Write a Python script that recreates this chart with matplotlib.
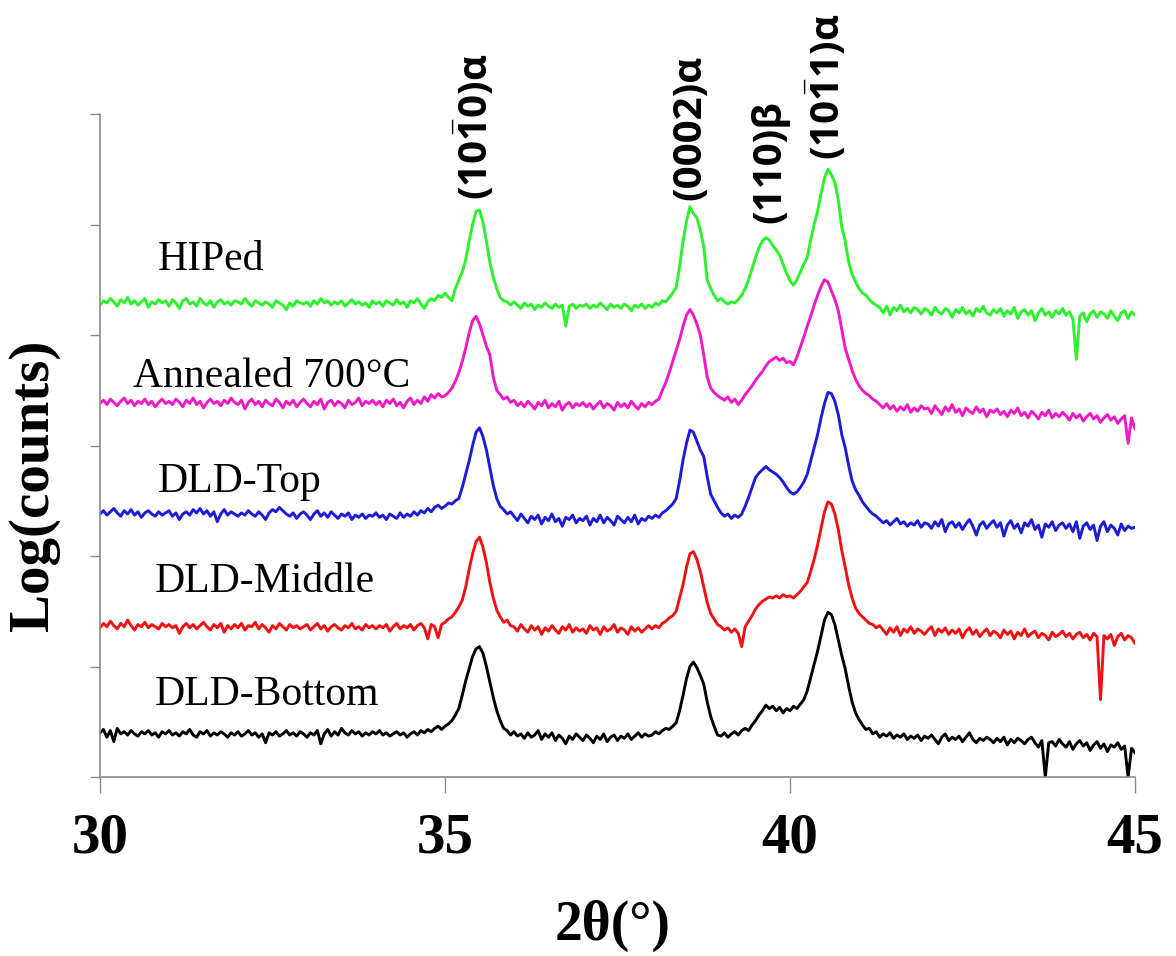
import numpy as np
import matplotlib
matplotlib.use("Agg")
import matplotlib.pyplot as plt

# ---------------- data ----------------
two_theta = np.round(np.arange(30.0, 45.0001, 0.05), 2)   # scan grid, 0.05 deg step

hiped = [
    4.27, 4.31, 4.29, 4.33, 4.30, 4.26, 4.32, 4.29, 4.34, 4.28, 4.31, 4.27, 4.30, 4.33, 4.25, 4.30, 4.28, 4.32, 4.29, 4.31,
    4.26, 4.32, 4.29, 4.24, 4.31, 4.33, 4.28, 4.30, 4.26, 4.33, 4.29, 4.27, 4.31, 4.25, 4.30, 4.32, 4.28, 4.30, 4.27, 4.31,
    4.30, 4.28, 4.33, 4.29, 4.26, 4.31, 4.29, 4.27, 4.30, 4.28, 4.25, 4.31, 4.29, 4.27, 4.23, 4.29, 4.26, 4.31, 4.29, 4.28,
    4.30, 4.26, 4.31, 4.28, 4.33, 4.29, 4.31, 4.27, 4.30, 4.28, 4.31, 4.26, 4.29, 4.32, 4.28, 4.30, 4.27, 4.29, 4.25, 4.31,
    4.28, 4.30, 4.26, 4.31, 4.29, 4.27, 4.32, 4.28, 4.30, 4.25, 4.31, 4.29, 4.33, 4.28, 4.24, 4.30, 4.33, 4.31, 4.36, 4.34,
    4.38, 4.34, 4.31, 4.42, 4.50, 4.57, 4.68, 4.85, 5.00, 5.12, 5.13, 5.02, 4.85, 4.66, 4.52, 4.42, 4.34, 4.31, 4.30, 4.27,
    4.30, 4.27, 4.24, 4.29, 4.26, 4.28, 4.23, 4.27, 4.25, 4.29, 4.26, 4.24, 4.28, 4.25, 4.27, 4.08, 4.26, 4.28, 4.24, 4.27,
    4.26, 4.28, 4.24, 4.27, 4.25, 4.29, 4.26, 4.23, 4.28, 4.25, 4.27, 4.24, 4.28, 4.26, 4.22, 4.27, 4.25, 4.28, 4.24, 4.27,
    4.25, 4.29, 4.27, 4.31, 4.30, 4.34, 4.38, 4.43, 4.62, 4.85, 5.03, 5.16, 5.10, 5.06, 4.95, 4.80, 4.50, 4.42, 4.36, 4.31,
    4.33, 4.30, 4.28, 4.30, 4.29, 4.32, 4.36, 4.42, 4.50, 4.60, 4.70, 4.79, 4.85, 4.88, 4.86, 4.81, 4.77, 4.72, 4.64, 4.56,
    4.49, 4.45, 4.50, 4.57, 4.64, 4.70, 4.86, 5.00, 5.12, 5.28, 5.42, 5.50, 5.45, 5.38, 5.22, 4.98, 4.85, 4.66, 4.55, 4.48,
    4.42, 4.38, 4.36, 4.32, 4.29, 4.27, 4.25, 4.20, 4.26, 4.18, 4.25, 4.22, 4.27, 4.21, 4.24, 4.20, 4.25, 4.23, 4.19, 4.24,
    4.22, 4.18, 4.25, 4.21, 4.19, 4.24, 4.22, 4.16, 4.23, 4.20, 4.25, 4.19, 4.22, 4.17, 4.24, 4.21, 4.26, 4.20, 4.18, 4.23,
    4.20, 4.24, 4.17, 4.22, 4.19, 4.25, 4.15, 4.21, 4.23, 4.18, 4.22, 4.13, 4.20, 4.24, 4.18, 4.21, 4.16, 4.22, 4.19, 4.24,
    4.18, 4.21, 4.14, 3.78, 4.17, 4.20, 4.12, 4.19, 4.22, 4.16, 4.21, 4.19, 4.15, 4.22, 4.17, 4.13, 4.20, 4.22, 4.15, 4.21,
    4.18,
]

annealed = [
    3.38, 3.41, 3.37, 3.42, 3.39, 3.36, 3.40, 3.43, 3.38, 3.41, 3.36, 3.40, 3.38, 3.42, 3.37, 3.40, 3.35, 3.39, 3.42, 3.38,
    3.40, 3.37, 3.42, 3.39, 3.35, 3.41, 3.38, 3.43, 3.37, 3.40, 3.34, 3.39, 3.42, 3.38, 3.40, 3.36, 3.41, 3.38, 3.43, 3.39,
    3.37, 3.41, 3.33, 3.39, 3.42, 3.37, 3.40, 3.35, 3.41, 3.38, 3.36, 3.42, 3.39, 3.34, 3.40, 3.37, 3.41, 3.35, 3.39, 3.42,
    3.38, 3.35, 3.40, 3.37, 3.42, 3.33, 3.39, 3.41, 3.36, 3.40, 3.38, 3.34, 3.41, 3.37, 3.39, 3.43, 3.36, 3.40, 3.38, 3.41,
    3.37, 3.40, 3.35, 3.41, 3.38, 3.42, 3.36, 3.39, 3.34, 3.40, 3.43, 3.37, 3.41, 3.38, 3.44, 3.40, 3.46, 3.43, 3.47, 3.44,
    3.45, 3.48, 3.52, 3.58, 3.66, 3.76, 3.88, 4.02, 4.13, 4.17, 4.10, 4.00, 3.90, 3.82, 3.62, 3.50, 3.46, 3.42, 3.44, 3.39,
    3.41, 3.36, 3.39, 3.35, 3.40, 3.37, 3.33, 3.39, 3.36, 3.41, 3.34, 3.38, 3.35, 3.40, 3.32, 3.37, 3.39, 3.34, 3.38, 3.36,
    3.39, 3.35, 3.38, 3.33, 3.37, 3.40, 3.34, 3.38, 3.36, 3.32, 3.39, 3.35, 3.38, 3.34, 3.40, 3.36, 3.33, 3.38, 3.35, 3.39,
    3.37, 3.40, 3.42, 3.50, 3.57, 3.66, 3.76, 3.86, 3.96, 4.08, 4.18, 4.23, 4.18, 4.10, 4.00, 3.82, 3.62, 3.52, 3.48, 3.45,
    3.43, 3.41, 3.44, 3.39, 3.42, 3.37, 3.41, 3.46, 3.50, 3.54, 3.59, 3.63, 3.67, 3.72, 3.76, 3.78, 3.80, 3.77, 3.79, 3.75,
    3.76, 3.73, 3.80, 3.89, 3.98, 4.08, 4.17, 4.27, 4.36, 4.44, 4.50, 4.48, 4.40, 4.32, 4.22, 4.05, 3.88, 3.78, 3.68, 3.60,
    3.54, 3.50, 3.47, 3.45, 3.42, 3.40, 3.37, 3.34, 3.38, 3.33, 3.36, 3.31, 3.35, 3.32, 3.37, 3.30, 3.34, 3.31, 3.36, 3.33,
    3.34, 3.29, 3.36, 3.32, 3.28, 3.35, 3.31, 3.37, 3.30, 3.33, 3.27, 3.34, 3.31, 3.29, 3.35, 3.30, 3.33, 3.26, 3.32, 3.30,
    3.33, 3.28, 3.31, 3.26, 3.32, 3.29, 3.34, 3.27, 3.30, 3.25, 3.31, 3.28, 3.24, 3.30, 3.27, 3.32, 3.25, 3.29, 3.26, 3.30,
    3.27, 3.23, 3.29, 3.25, 3.28, 3.22, 3.26, 3.29, 3.24, 3.27, 3.21, 3.25, 3.28, 3.23, 3.26, 3.20, 3.24, 3.27, 3.02, 3.25,
    3.15,
]

dld_top = [
    2.38, 2.41, 2.37, 2.40, 2.43, 2.39, 2.36, 2.41, 2.38, 2.42, 2.37, 2.40, 2.35, 2.39, 2.41, 2.38, 2.36, 2.40, 2.37, 2.39,
    2.41, 2.36, 2.39, 2.33, 2.38, 2.40, 2.37, 2.42, 2.39, 2.43, 2.38, 2.41, 2.36, 2.40, 2.31, 2.38, 2.42, 2.37, 2.40, 2.38,
    2.36, 2.39, 2.37, 2.41, 2.38, 2.36, 2.40, 2.37, 2.33, 2.39, 2.42, 2.40, 2.44, 2.41, 2.38, 2.36, 2.39, 2.34, 2.38, 2.40,
    2.37, 2.33, 2.38, 2.41, 2.36, 2.39, 2.35, 2.40, 2.37, 2.34, 2.38, 2.36, 2.39, 2.33, 2.37, 2.35, 2.38, 2.34, 2.37, 2.36,
    2.39, 2.35, 2.37, 2.33, 2.38, 2.36, 2.34, 2.39, 2.35, 2.38, 2.36, 2.40, 2.37, 2.41, 2.39, 2.43, 2.40, 2.44, 2.46, 2.43,
    2.45, 2.48, 2.47, 2.50, 2.52, 2.62, 2.74, 2.86, 3.00, 3.12, 3.16, 3.08, 2.96, 2.80, 2.64, 2.52, 2.45, 2.42, 2.38, 2.40,
    2.36, 2.32, 2.38, 2.34, 2.30, 2.36, 2.33, 2.37, 2.29, 2.35, 2.32, 2.38, 2.31, 2.34, 2.27, 2.35, 2.33, 2.37, 2.30, 2.34,
    2.32, 2.36, 2.28, 2.34, 2.31, 2.37, 2.30, 2.35, 2.32, 2.28, 2.36, 2.33, 2.30, 2.35, 2.31, 2.37, 2.29, 2.34, 2.32, 2.36,
    2.34, 2.37, 2.35, 2.39, 2.41, 2.44, 2.47, 2.52, 2.68, 2.87, 3.02, 3.14, 3.12, 3.04, 2.96, 2.90, 2.72, 2.56, 2.50, 2.44,
    2.39, 2.36, 2.38, 2.34, 2.37, 2.35, 2.38, 2.45, 2.53, 2.62, 2.71, 2.75, 2.78, 2.81, 2.78, 2.76, 2.74, 2.71, 2.67, 2.62,
    2.58, 2.56, 2.58, 2.62, 2.67, 2.74, 2.86, 2.98, 3.10, 3.25, 3.38, 3.48, 3.47, 3.40, 3.28, 3.10, 2.98, 2.82, 2.68, 2.60,
    2.55, 2.49, 2.45, 2.41, 2.38, 2.36, 2.33, 2.30, 2.32, 2.28, 2.31, 2.34, 2.29, 2.31, 2.27, 2.30, 2.28, 2.32, 2.26, 2.30,
    2.29, 2.25, 2.31, 2.27, 2.33, 2.22, 2.29, 2.31, 2.26, 2.30, 2.24, 2.29, 2.33, 2.27, 2.19, 2.28, 2.31, 2.25, 2.29, 2.32,
    2.26, 2.30, 2.18, 2.28, 2.32, 2.25, 2.29, 2.21, 2.30, 2.27, 2.33, 2.24, 2.28, 2.17, 2.29, 2.26, 2.31, 2.23, 2.28, 2.30,
    2.25, 2.29, 2.22, 2.31, 2.16, 2.27, 2.30, 2.24, 2.28, 2.14, 2.27, 2.31, 2.22, 2.28, 2.25, 2.19, 2.29, 2.23, 2.27, 2.25,
    2.26,
]

dld_middle = [
    1.35, 1.39, 1.36, 1.41, 1.37, 1.34, 1.39, 1.36, 1.42, 1.37, 1.33, 1.38, 1.36, 1.40, 1.35, 1.38, 1.36, 1.34, 1.39, 1.36,
    1.38, 1.35, 1.37, 1.30, 1.36, 1.39, 1.35, 1.38, 1.34, 1.37, 1.40, 1.36, 1.33, 1.38, 1.35, 1.39, 1.31, 1.37, 1.34, 1.38,
    1.35, 1.39, 1.33, 1.37, 1.36, 1.40, 1.34, 1.38, 1.35, 1.31, 1.37, 1.34, 1.39, 1.36, 1.33, 1.38, 1.35, 1.37, 1.34, 1.36,
    1.38, 1.33, 1.36, 1.39, 1.34, 1.37, 1.32, 1.36, 1.38, 1.35, 1.33, 1.37, 1.35, 1.39, 1.34, 1.36, 1.33, 1.38, 1.35, 1.37,
    1.34, 1.37, 1.35, 1.38, 1.32, 1.36, 1.39, 1.34, 1.37, 1.35, 1.38, 1.33, 1.37, 1.39, 1.35, 1.25, 1.38, 1.36, 1.26, 1.38,
    1.40, 1.43, 1.45, 1.49, 1.54, 1.60, 1.72, 1.88, 2.02, 2.13, 2.17, 2.08, 1.94, 1.76, 1.62, 1.51, 1.45, 1.40, 1.42, 1.37,
    1.36, 1.32, 1.38, 1.34, 1.31, 1.37, 1.33, 1.36, 1.29, 1.35, 1.32, 1.37, 1.33, 1.30, 1.36, 1.33, 1.38, 1.31, 1.35, 1.32,
    1.34, 1.30, 1.37, 1.33, 1.35, 1.29, 1.36, 1.32, 1.34, 1.38, 1.31, 1.35, 1.33, 1.29, 1.36, 1.32, 1.35, 1.31, 1.34, 1.37,
    1.34, 1.37, 1.35, 1.39, 1.41, 1.44, 1.46, 1.50, 1.62, 1.74, 1.90, 2.02, 2.04, 1.97, 1.86, 1.72, 1.58, 1.48, 1.43, 1.38,
    1.36, 1.33, 1.35, 1.31, 1.34, 1.30, 1.18, 1.36, 1.41, 1.46, 1.52, 1.56, 1.59, 1.61, 1.63, 1.62, 1.64, 1.62, 1.65, 1.63,
    1.64, 1.62, 1.65, 1.68, 1.72, 1.76, 1.86, 1.97, 2.10, 2.25, 2.40, 2.49, 2.47, 2.38, 2.24, 2.05, 1.90, 1.74, 1.62, 1.53,
    1.48, 1.45, 1.42, 1.39, 1.38, 1.35, 1.37, 1.33, 1.29, 1.35, 1.31, 1.36, 1.28, 1.34, 1.31, 1.36, 1.30, 1.34, 1.32, 1.29,
    1.33, 1.36, 1.28, 1.34, 1.31, 1.35, 1.29, 1.33, 1.30, 1.34, 1.26, 1.32, 1.35, 1.29, 1.33, 1.27, 1.31, 1.34, 1.28, 1.32,
    1.30, 1.26, 1.33, 1.29, 1.32, 1.25, 1.31, 1.28, 1.34, 1.27, 1.30, 1.32, 1.26, 1.30, 1.28, 1.24, 1.31, 1.27, 1.29, 1.32,
    1.27, 1.30, 1.25, 1.29, 1.31, 1.26, 1.29, 1.24, 1.30, 1.27, 0.70, 1.28, 1.25, 1.29, 1.19, 1.27, 1.30, 1.24, 1.28, 1.26,
    1.21,
]

dld_bottom = [
    0.40, 0.43, 0.36, 0.42, 0.32, 0.44, 0.39, 0.41, 0.38, 0.42, 0.39, 0.37, 0.41, 0.39, 0.42, 0.38, 0.40, 0.36, 0.41, 0.39,
    0.42, 0.38, 0.40, 0.37, 0.41, 0.39, 0.43, 0.38, 0.36, 0.41, 0.39, 0.42, 0.37, 0.40, 0.38, 0.41, 0.39, 0.36, 0.40, 0.38,
    0.41, 0.37, 0.39, 0.42, 0.38, 0.40, 0.36, 0.39, 0.31, 0.40, 0.38, 0.41, 0.37, 0.39, 0.42, 0.38, 0.40, 0.37, 0.41, 0.39,
    0.36, 0.40, 0.38, 0.42, 0.30, 0.39, 0.43, 0.37, 0.41, 0.38, 0.44, 0.40, 0.38, 0.42, 0.39, 0.41, 0.37, 0.40, 0.38, 0.41,
    0.39, 0.42, 0.38, 0.40, 0.37, 0.39, 0.41, 0.38, 0.40, 0.36, 0.39, 0.41, 0.38, 0.42, 0.40, 0.43, 0.41, 0.44, 0.46, 0.43,
    0.46, 0.48, 0.51, 0.56, 0.62, 0.74, 0.87, 0.98, 1.09, 1.16, 1.18, 1.12, 1.00, 0.86, 0.72, 0.60, 0.51, 0.44, 0.42, 0.38,
    0.41, 0.37, 0.39, 0.35, 0.40, 0.36, 0.38, 0.42, 0.34, 0.39, 0.36, 0.40, 0.33, 0.38, 0.35, 0.30, 0.37, 0.34, 0.39, 0.36,
    0.33, 0.38, 0.35, 0.31, 0.37, 0.34, 0.39, 0.32, 0.36, 0.38, 0.33, 0.37, 0.35, 0.39, 0.34, 0.37, 0.40, 0.36, 0.39, 0.37,
    0.38, 0.41, 0.39, 0.42, 0.44, 0.43, 0.46, 0.49, 0.60, 0.74, 0.89, 1.00, 1.04, 0.99, 0.92, 0.84, 0.68, 0.55, 0.46, 0.38,
    0.37, 0.40, 0.36, 0.39, 0.41, 0.38, 0.42, 0.44, 0.42, 0.47, 0.51, 0.56, 0.60, 0.65, 0.62, 0.64, 0.60, 0.63, 0.58, 0.62,
    0.60, 0.64, 0.62, 0.66, 0.70, 0.78, 0.90, 1.02, 1.14, 1.28, 1.42, 1.49, 1.47, 1.38, 1.24, 1.10, 0.98, 0.82, 0.68, 0.58,
    0.52, 0.47, 0.43, 0.44, 0.39, 0.41, 0.36, 0.39, 0.37, 0.40, 0.35, 0.38, 0.36, 0.39, 0.34, 0.37, 0.35, 0.38, 0.33, 0.37,
    0.35, 0.38, 0.34, 0.30, 0.36, 0.39, 0.33, 0.36, 0.34, 0.37, 0.32, 0.36, 0.40, 0.34, 0.31, 0.35, 0.33, 0.36, 0.34, 0.31,
    0.35, 0.32, 0.36, 0.29, 0.34, 0.31, 0.35, 0.33, 0.30, 0.34, 0.36, 0.31, 0.27, 0.33, 0.00, 0.31, 0.32, 0.28, 0.34, 0.30,
    0.27, 0.32, 0.25, 0.30, 0.33, 0.28, 0.31, 0.24, 0.29, 0.32, 0.26, 0.30, 0.23, 0.29, 0.27, 0.31, 0.25, 0.28, 0.00, 0.26,
    0.22,
]

sample_names = ["HIPed", "Annealed 700\u00b0C", "DLD-Top", "DLD-Middle", "DLD-Bottom"]
sample_series = [hiped, annealed, dld_top, dld_middle, dld_bottom]
sample_colors = ["#2cf22c", "#f019c8", "#1c1cd6", "#f01212", "#000000"]
sample_label_pos = [(30.83, 4.59), (30.48, 3.53), (30.83, 2.58), (30.80, 1.67), (30.80, 0.65)]

peak_labels = ["(10$\\bar{1}$0)\u03b1", "(0002)\u03b1", "(110)\u03b2", "(10$\\bar{1}$1)\u03b1"]
peak_label_pos = [(35.43, 5.22), (38.55, 5.22), (39.71, 5.01), (40.54, 5.58)]

x_ticks = [30, 35, 40, 45]
x_tick_labels = ["30", "35", "40", "45"]
y_ticks = [0, 1, 2, 3, 4, 5, 6]

# ---------------- figure ----------------
plt.rcParams["mathtext.fontset"] = "custom"
plt.rcParams["mathtext.rm"] = "Open Sans:bold"
plt.rcParams["mathtext.it"] = "Open Sans:bold"
plt.rcParams["mathtext.bf"] = "Open Sans:bold"

fig = plt.figure(figsize=(11.76, 9.56), dpi=100)
ax = fig.add_axes([100 / 1176, 1 - 777 / 956, 1035 / 1176, 663 / 956])

for ys, c in zip(sample_series, sample_colors):
    ax.plot(two_theta, ys, color=c, lw=2.1, solid_joinstyle="round")

serif = ["Liberation Serif", "DejaVu Serif"]
for name, (tx, ty) in zip(sample_names, sample_label_pos):
    ax.text(tx, ty, name, fontsize=30, family=serif, ha="left", va="baseline")

for lab, (tx, ty) in zip(peak_labels, peak_label_pos):
    ax.text(tx, ty, lab, fontsize=29, family=["Open Sans", "DejaVu Sans"], fontweight="bold",
            rotation=90, ha="center", va="bottom", clip_on=False)

ax.set_xlim(30, 45)
ax.set_ylim(0, 6)
ax.set_xticks(x_ticks)
ax.set_xticklabels(x_tick_labels, fontsize=41, family=serif, fontweight="bold")
ax.set_yticks(y_ticks)
ax.set_yticklabels([])

for s in ("top", "right"):
    ax.spines[s].set_visible(False)
for s in ("left", "bottom"):
    ax.spines[s].set_color("#8c8c8c")
    ax.spines[s].set_linewidth(1.2)

ax.tick_params(axis="x", direction="out", length=11.5, width=1.0, color="#8c8c8c", pad=14)
ax.tick_params(axis="y", direction="out", length=7, width=1.0, color="#8c8c8c")

fig.text(613 / 1176, 1 - 940 / 956, "2\u03b8(\u00b0)", fontsize=40, family=serif, fontweight="bold",
         ha="center", va="baseline")
fig.text(34 / 1176, 1 - 485 / 956, "Log(counts)", fontsize=41, family=serif, fontweight="bold",
         rotation=90, ha="center", va="center")

fig.savefig("out.png", dpi=100, facecolor="white")
